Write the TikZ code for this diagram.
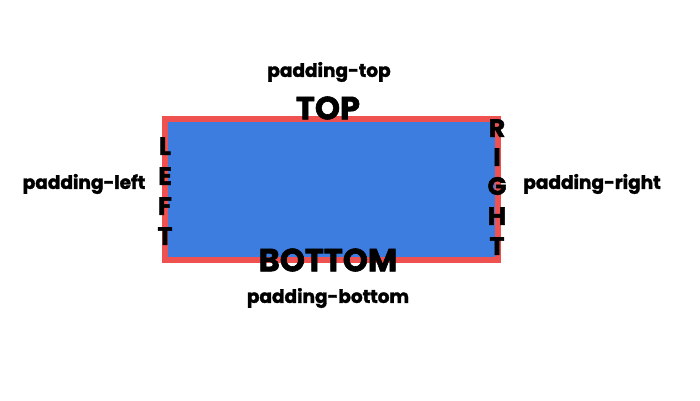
\documentclass[tikz,border=0pt]{standalone}
\usepackage{fontspec}
\setmainfont{Poppins}[BoldFeatures={FakeBold=1.8}]
\begin{document}
\begin{tikzpicture}[x=1pt,y=-1pt,
  box/.style={draw={rgb,255:red,239;green,80;blue,80},fill={rgb,255:red,61;green,125;blue,224},line width=6pt},
  plabel/.style={font=\fontsize{18.5}{18.5}\selectfont\bfseries,inner sep=0pt},
  biglabel/.style={font=\fontsize{32}{32}\selectfont\bfseries,inner sep=0pt},
  sidelabel/.style={font=\fontsize{25}{25}\selectfont\bfseries,inner sep=0pt}]
\useasboundingbox (0,0) rectangle (700,400);
\draw[box] (165,119) rectangle (498,259.5);
\node[plabel] (ptop) at (329,72) {padding-top};
\node[biglabel] (top) at (328,108) {TOP};
\node[biglabel] (bottom) at (328,260) {BOTTOM};
\node[plabel] (pbottom) at (328,298) {padding-bottom};
\node[plabel] (pleft) at (84,184) {padding-left};
\node[plabel] (pright) at (592,184) {padding-right};
\node[sidelabel] (l1) at (165,146) {L};
\node[sidelabel] (l2) at (165,176) {E};
\node[sidelabel] (l3) at (165,206) {F};
\node[sidelabel] (l4) at (165,236) {T};
\node[sidelabel] (r1) at (497,128) {R};
\node[sidelabel] (r2) at (497,157) {I};
\node[sidelabel] (r3) at (497,186) {G};
\node[sidelabel] (r4) at (497,216) {H};
\node[sidelabel] (r5) at (497,246) {T};
\end{tikzpicture}
\end{document}
